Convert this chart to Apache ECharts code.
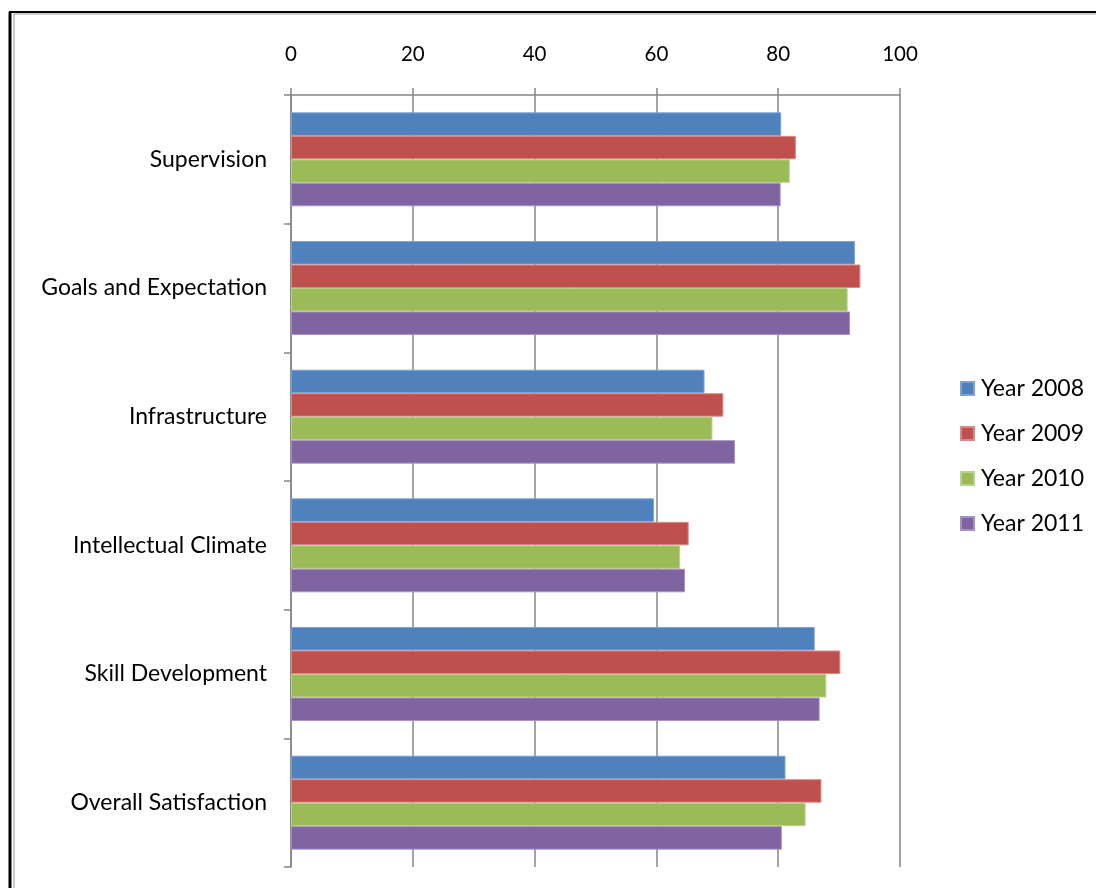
<!DOCTYPE html>
<html><head><meta charset="utf-8">
<script src="https://cdn.jsdelivr.net/npm/echarts@6/dist/echarts.min.js"></script>
<style>html,body{margin:0;padding:0;background:#fff}#c{width:1096px;height:888px}</style>
</head><body><div id="c"></div>
<script>
const categories = ['Supervision','Goals and Expectation','Infrastructure','Intellectual Climate','Skill Development','Overall Satisfaction'];
const seriesNames = ['Year 2008','Year 2009','Year 2010','Year 2011'];
const year2008 = [80.5, 92.6, 67.9, 59.6, 86.0, 81.2];
const year2009 = [82.9, 93.5, 71.0, 65.3, 90.2, 87.1];
const year2010 = [81.9, 91.4, 69.2, 63.9, 87.9, 84.5];
const year2011 = [80.4, 91.8, 72.9, 64.7, 86.8, 80.6];
const xTicks = {min: 0, max: 100, interval: 20};
const colors = ['#4F81BD','#C0504D','#9BBB59','#8064A2'];
const borders = ['#7FA2D3','#D98A88','#B8D38A','#A691C2'];
const values = [year2008, year2009, year2010, year2011];
const FONT = 'Lato';
const axisGray = '#868686';

const chart = echarts.init(document.getElementById('c'), null, {renderer: 'canvas'});
chart.setOption({
  animation: false,
  backgroundColor: '#fff',
  textStyle: {fontFamily: FONT},
  grid: {left: 291, right: 196, top: 95, bottom: 21, containLabel: false},
  legend: {
    orient: 'vertical', left: 955, top: 372,
    itemWidth: 13, itemHeight: 13, itemGap: 22,
    icon: 'rect',
    textStyle: {fontFamily: FONT, fontSize: 23, color: '#000', padding: [0,0,0,2]},
    data: seriesNames
  },
  xAxis: {
    type: 'value', position: 'top', min: xTicks.min, max: xTicks.max, interval: xTicks.interval,
    axisLine: {show: true, lineStyle: {color: axisGray, width: 1.5}},
    axisTick: {show: true, length: 7, lineStyle: {color: axisGray, width: 1.5}},
    axisLabel: {fontFamily: FONT, fontSize: 20.5, color: '#000', margin: 30},
    splitLine: {show: true, lineStyle: {color: axisGray, width: 1.5}}
  },
  yAxis: {
    type: 'category', inverse: true, data: categories,
    axisLine: {show: true, lineStyle: {color: axisGray, width: 1.5}},
    axisTick: {show: true, length: 7, lineStyle: {color: axisGray, width: 1.5}},
    axisLabel: {fontFamily: FONT, fontSize: 23, color: '#000', margin: 24}
  },
  graphic: [
    {type: 'line', shape: {x1: 10, y1: 12, x2: 10, y2: 888}, style: {stroke: '#000', lineWidth: 3}, z: 100},
    {type: 'line', shape: {x1: 9, y1: 12, x2: 1096, y2: 12}, style: {stroke: '#000', lineWidth: 2}, z: 100},
    {type: 'line', shape: {x1: 14, y1: 14, x2: 14, y2: 888}, style: {stroke: '#999', lineWidth: 1}, z: 100},
    {type: 'line', shape: {x1: 14, y1: 14, x2: 1096, y2: 14}, style: {stroke: '#999', lineWidth: 1}, z: 100}
  ],
  series: seriesNames.map((n, i) => ({
    name: n, type: 'bar', data: values[i],
    barGap: '0%', barCategoryGap: '27%',
    itemStyle: {color: colors[i], borderColor: borders[i], borderWidth: 1}
  }))
});
</script></body></html>
